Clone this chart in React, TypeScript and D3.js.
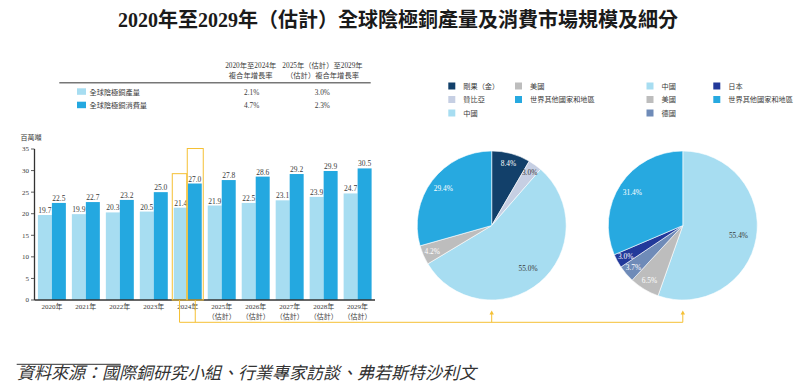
import React from "react";
import * as d3 from "d3";

// bar chart data (百萬噸)
const years = ["2020年", "2021年", "2022年", "2023年", "2024年", "2025年", "2026年", "2027年", "2028年", "2029年"];
const yearSub = ["", "", "", "", "", "（估計）", "（估計）", "（估計）", "（估計）", "（估計）"];
const production = [19.7, 19.9, 20.3, 20.5, 21.4, 21.9, 22.5, 23.1, 23.9, 24.7];
const consumption = [22.5, 22.7, 23.2, 25.0, 27.0, 27.8, 28.6, 29.2, 29.9, 30.5];
const seriesNames = ["全球陰極銅產量", "全球陰極銅消費量"];
const yTicks = [0, 5, 10, 15, 20, 25, 30, 35];
const highlightYear = "2024年";

// CAGR table
const cagrHead1 = ["2020年至2024年", "複合年增長率"];
const cagrHead2 = ["2025年（估計）至2029年", "（估計）複合年增長率"];
const cagrHist = ["2.1%", "4.7%"];
const cagrFcst = ["3.0%", "2.3%"];

// pie: production share
const prodRegions = ["剛果（金）", "贊比亞", "中國", "美國", "世界其他國家和地區"];
const prodShare = [8.4, 3.0, 55.0, 4.2, 29.4];
// pie: consumption share
const consRegions = ["中國", "美國", "德國", "日本", "世界其他國家和地區"];
const consShare = [55.4, 6.5, 3.7, 3.0, 31.4];

const regionColor: Record<string, string> = {
  "剛果（金）": "#12406a",
  "贊比亞": "#c6cfe3",
  "中國": "#a7ddf1",
  "美國": "#bdbdbd",
  "德國": "#6f8bb8",
  "日本": "#22399a",
  "世界其他國家和地區": "#27a9e0",
};
const darkLabel = new Set(["中國", "贊比亞"]);

const LIGHT = "#a7ddf1";
const DARK = "#24a8e0";
const GOLD = "#f5c034";
const TXT = "#3a3a3a";
const FONT = "'Liberation Serif', 'Noto Sans CJK TC', serif";

function Pie({ cx, cy, r, names, values }: { cx: number; cy: number; r: number; names: string[]; values: number[] }) {
  const data = names.map((n, i) => ({ name: n, value: values[i] }));
  const pie = d3.pie<{ name: string; value: number }>().value((d) => d.value).sort(null);
  const arcs = pie(data);
  const arc = d3.arc<d3.PieArcDatum<{ name: string; value: number }>>().innerRadius(0).outerRadius(r);
  const total = d3.sum(values);
  return (
    <g transform={`translate(${cx},${cy})`}>
      {arcs.map((a) => (
        <path key={a.data.name} d={arc(a) || ""} fill={regionColor[a.data.name]} stroke="#fff" strokeWidth={0.6} />
      ))}
      {arcs.map((a) => {
        const lr = r * (0.88 - 0.22 * (a.data.value / total));
        const [x, y] = d3.arc<any>().innerRadius(lr).outerRadius(lr).centroid(a);
        return (
          <text key={"l" + a.data.name} x={x} y={y} dy="0.35em" textAnchor="middle" fontSize={7.4}
            fill={darkLabel.has(a.data.name) ? TXT : "#fff"}>
            {a.data.value.toFixed(1)}%
          </text>
        );
      })}
    </g>
  );
}

function Legend({ x0, x1, names }: { x0: number; x1: number; names: string[] }) {
  const rows = [82.5, 96, 109.5];
  return (
    <g>
      {names.map((n, i) => {
        const x = i < 3 ? x0 : x1;
        const y = rows[i % 3];
        return (
          <g key={n}>
            <rect x={x} y={y} width={7} height={7} fill={regionColor[n]} />
            <text x={x + 15} y={y + 6} fontSize={7.2} fill={TXT}>{n}</text>
          </g>
        );
      })}
    </g>
  );
}

export default function App() {
  const x = d3.scaleBand<string>().domain(years).range([34.5, 375]).paddingInner(6 / 34).paddingOuter(0.1);
  const xs = d3.scaleBand<string>().domain(["p", "c"]).range([0, x.bandwidth()]);
  const y = d3.scaleLinear().domain([0, 35]).range([300, 149]);
  const bw = xs.bandwidth();

  const hi = years.indexOf(highlightYear);
  const hx = x(highlightYear)!;
  const box1 = { x: hx - 1.5, y: y(production[hi]) - 34, w: bw + 0.5, h: 300 - (y(production[hi]) - 34) };
  const box2 = { x: hx + bw - 0.5, y: y(consumption[hi]) - 35, w: bw + 2, h: 300 - (y(consumption[hi]) - 35) };
  const b1c = box1.x + box1.w / 2;
  const b2c = box2.x + box2.w / 2;

  const pie1 = { cx: 491.7, cy: 225.5, r: 74.5 };
  const pie2 = { cx: 682.8, cy: 225.5, r: 74.5 };
  const connY = 322.3;

  return (
    <div style={{ position: "absolute", left: 0, top: 0 }}>
      <svg width={795} height={391} viewBox="0 0 795 391" style={{ display: "block", fontFamily: FONT }}>
        <rect width={795} height={391} fill="#fff" />
        <text x={398} y={27} textAnchor="middle" fontSize={20} fontWeight="bold" fill="#1a1a1a">
          2020年至2029年（估計）全球陰極銅產量及消費市場規模及細分
        </text>

        {/* CAGR table */}
        {cagrHead1.map((t, i) => (
          <text key={"h1" + i} x={250.7} y={68.3 + i * 9.4} textAnchor="middle" fontSize={7.3} fill={TXT}>{t}</text>
        ))}
        {cagrHead2.map((t, i) => (
          <text key={"h2" + i} x={322.5} y={68.3 + i * 9.4} textAnchor="middle" fontSize={7.3} fill={TXT}>{t}</text>
        ))}
        <line x1={59.3} x2={370.7} y1={82.7} y2={82.7} stroke="#777" strokeWidth={1.4} />
        {seriesNames.map((n, i) => (
          <g key={n}>
            <rect x={77} y={88.3 + i * 13.4} width={9} height={6.5} fill={i === 0 ? LIGHT : DARK} />
            <text x={89.5} y={94.6 + i * 13.4} fontSize={7.2} fill={TXT}>{n}</text>
            <text x={251.7} y={94.6 + i * 13.4} textAnchor="middle" fontSize={7.3} fill={TXT}>{cagrHist[i]}</text>
            <text x={322.3} y={94.6 + i * 13.4} textAnchor="middle" fontSize={7.3} fill={TXT}>{cagrFcst[i]}</text>
          </g>
        ))}

        {/* bar chart */}
        <text x={20.5} y={139.8} fontSize={7} fill={TXT}>百萬噸</text>
        {years.map((yr, i) => {
          const gx = x(yr)!;
          return (
            <g key={yr}>
              <rect x={gx + xs("p")!} y={y(production[i])} width={bw} height={300 - y(production[i])} fill={LIGHT} />
              <rect x={gx + xs("c")!} y={y(consumption[i])} width={bw} height={300 - y(consumption[i])} fill={DARK} />
              <text x={gx + xs("p")! + bw / 2} y={y(production[i]) - 2} textAnchor="middle" fontSize={7.5} fill={TXT}>
                {production[i].toFixed(1)}
              </text>
              <text x={gx + xs("c")! + bw / 2} y={y(consumption[i]) - 2} textAnchor="middle" fontSize={7.5} fill={TXT}>
                {consumption[i].toFixed(1)}
              </text>
              <text x={gx + x.bandwidth() / 2} y={309.2} textAnchor="middle" fontSize={7} fill={TXT}>{yr}</text>
              {yearSub[i] && (
                <text x={gx + x.bandwidth() / 2} y={318.6} textAnchor="middle" fontSize={7} fill={TXT}>{yearSub[i]}</text>
              )}
            </g>
          );
        })}
        <line x1={34.5} x2={34.5} y1={y(35)} y2={300} stroke="#333" strokeWidth={1.3} />
        <line x1={34.5} x2={375} y1={300} y2={300} stroke="#333" strokeWidth={1.3} />
        {yTicks.map((t) => (
          <g key={t}>
            <line x1={31} x2={34.5} y1={y(t)} y2={y(t)} stroke="#333" strokeWidth={0.8} />
            <text x={29} y={y(t)} dy="0.35em" textAnchor="end" fontSize={7} fill={TXT}>{t}</text>
          </g>
        ))}

        {/* highlight of 2024 and connector */}
        <rect x={box1.x} y={box1.y} width={box1.w} height={box1.h} fill="none" stroke={GOLD} strokeWidth={1} />
        <rect x={box2.x} y={box2.y} width={box2.w} height={box2.h} fill="none" stroke={GOLD} strokeWidth={1} />
        <line x1={b1c} x2={b1c} y1={300} y2={connY} stroke={GOLD} strokeWidth={1} />
        <line x1={b2c} x2={b2c} y1={300} y2={connY} stroke={GOLD} strokeWidth={1} />
        <line x1={b1c} x2={pie2.cx} y1={connY} y2={connY} stroke={GOLD} strokeWidth={1} />
        {[pie1.cx, pie2.cx].map((ax) => (
          <g key={ax}>
            <line x1={ax} x2={ax} y1={connY} y2={313} stroke={GOLD} strokeWidth={1} />
            <path d={`M${ax - 2.2},${314.5} L${ax},${310.5} L${ax + 2.2},${314.5} Z`} fill={GOLD} />
          </g>
        ))}

        {/* pies */}
        <Legend x0={448.3} x1={515} names={prodRegions} />
        <Legend x0={646.5} x1={713.3} names={consRegions} />
        <Pie {...pie1} names={prodRegions} values={prodShare} />
        <Pie {...pie2} names={consRegions} values={consShare} />

        {/* source */}
        <line x1={16.7} x2={120.7} y1={364.3} y2={364.3} stroke="#333" strokeWidth={1} />
        <text x={17} y={379} fontSize={17} fontStyle="italic" fill="#333">
          資料來源：國際銅研究小組、行業專家訪談、弗若斯特沙利文
        </text>
      </svg>
    </div>
  );
}
